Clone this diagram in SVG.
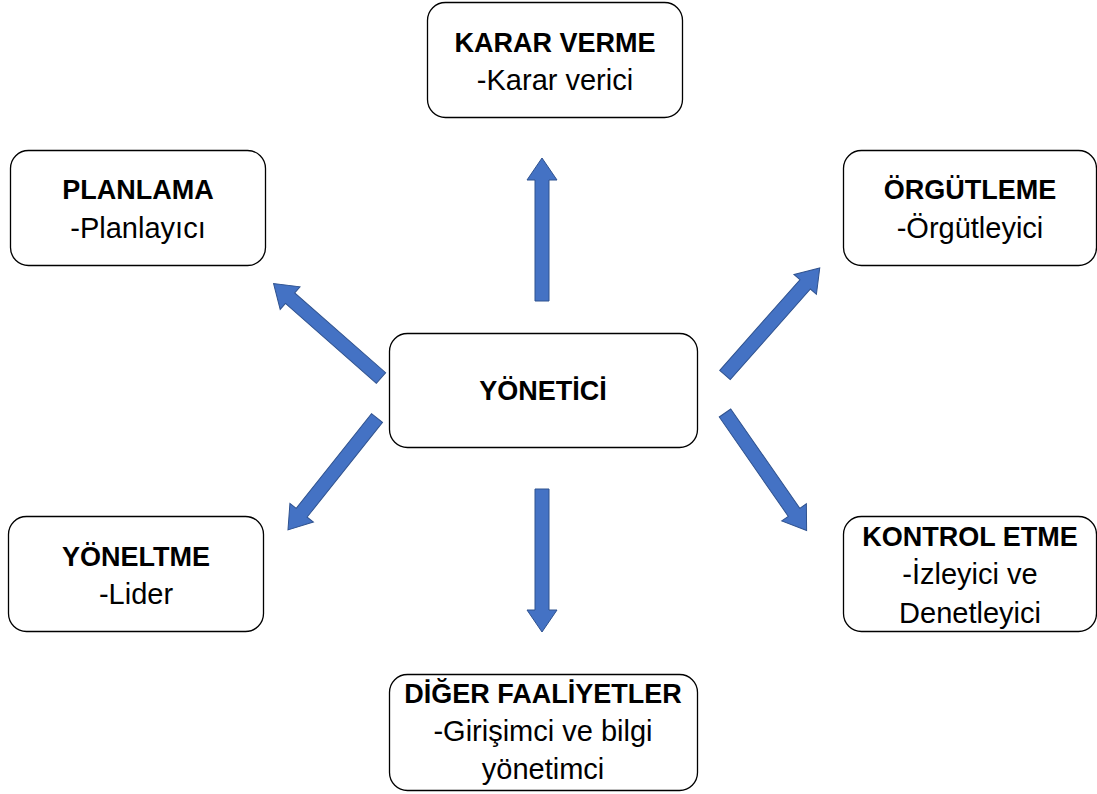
<svg xmlns="http://www.w3.org/2000/svg" width="1097" height="794" viewBox="0 0 1097 794">
<style>
.box{fill:#fff;stroke:#000;stroke-width:1.3}
.t{font-family:"Liberation Sans",Arial,sans-serif;font-size:27px;text-anchor:middle;fill:#000}
.b{font-weight:bold}
.r{font-size:29px}
.arr{fill:#4472C4;stroke:#2F528F;stroke-width:1}
</style>
<defs>
<path id="a" d="M0,-7 L121,-7 L121,-15 L143,0 L121,15 L121,7 L0,7 Z"/>
</defs>
<rect width="1097" height="794" fill="#fff"/>
<g id="connectors" class="arr">
<use href="#a" transform="translate(542,301) rotate(-90)"/>
<use href="#a" transform="translate(542,489) rotate(90)"/>
<use href="#a" transform="translate(381,378) rotate(-138.7)"/>
<use href="#a" transform="translate(377,418) rotate(128.5)"/>
<use href="#a" transform="translate(725,375) rotate(-48.5)"/>
<use href="#a" transform="translate(725,413) rotate(55.2)"/>
</g>
<g id="karar">
<rect class="box" x="427.5" y="2.5" width="255" height="115" rx="18"/>
<text class="t b" x="555" y="52">KARAR VERME</text>
<text class="t r" x="555" y="90">-Karar verici</text>
</g>
<g id="planlama">
<rect class="box" x="10.5" y="150.5" width="255" height="115" rx="18"/>
<text class="t b" x="138" y="199">PLANLAMA</text>
<text class="t r" x="138" y="238">-Planlayıcı</text>
</g>
<g id="orgutleme">
<rect class="box" x="843.5" y="150.5" width="253" height="115" rx="18"/>
<text class="t b" x="970" y="199">ÖRGÜTLEME</text>
<text class="t r" x="970" y="238">-Örgütleyici</text>
</g>
<g id="yonetici">
<rect class="box" x="389.5" y="333.5" width="308" height="114" rx="18"/>
<text class="t b" x="543" y="400">YÖNETİCİ</text>
</g>
<g id="yoneltme">
<rect class="box" x="8.5" y="516.5" width="255" height="115" rx="18"/>
<text class="t b" x="136" y="566">YÖNELTME</text>
<text class="t r" x="136" y="604">-Lider</text>
</g>
<g id="kontrol">
<rect class="box" x="843.5" y="516.5" width="253" height="115" rx="18"/>
<text class="t b" x="970" y="546">KONTROL ETME</text>
<text class="t r" x="970" y="584">-İzleyici ve</text>
<text class="t r" x="970" y="623">Denetleyici</text>
</g>
<g id="diger">
<rect class="box" x="389.5" y="674.5" width="308" height="116" rx="18"/>
<text class="t b" x="543" y="703">DİĞER FAALİYETLER</text>
<text class="t r" x="543" y="741">-Girişimci ve bilgi</text>
<text class="t r" x="543" y="779">yönetimci</text>
</g>
</svg>
